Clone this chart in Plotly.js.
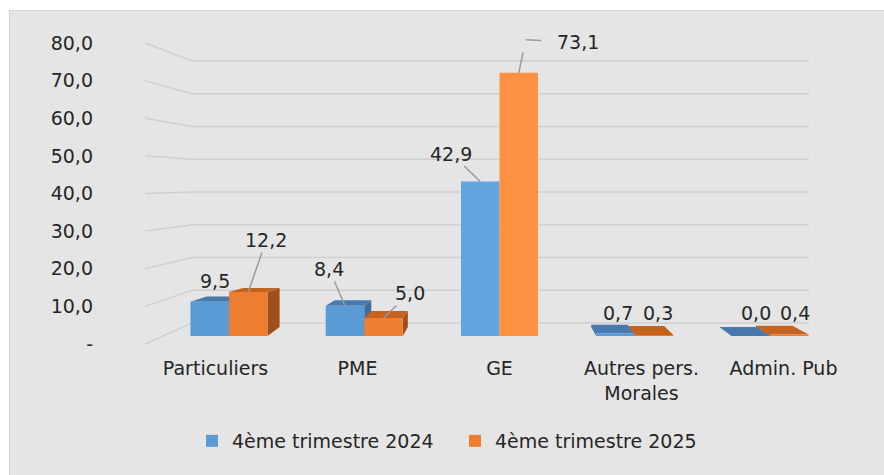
<!DOCTYPE html>
<html><head><meta charset="utf-8">
<script src="https://cdn.plot.ly/plotly-3.0.1.min.js"></script>
<style>
html,body{margin:0;padding:0;background:#ffffff;}
#chart{position:absolute;left:9px;top:10px;width:874px;height:464px;border-left:1px solid #d6d6d6;border-top:1px solid #d6d6d6;}
</style></head><body><div id="chart"></div>
<script>
// ---- data ----
const categories = ['Particuliers', 'PME', 'GE', 'Autres pers.<br>Morales', 'Admin. Pub'];
const seriesNames = ['4ème trimestre 2024', '4ème trimestre 2025'];
const values2024 = [9.5, 8.4, 42.9, 0.7, 0.0];
const values2025 = [12.2, 5.0, 73.1, 0.3, 0.4];
const yTickVals = [0, 10, 20, 30, 40, 50, 60, 70, 80];
const yTickText = ['-', '10,0', '20,0', '30,0', '40,0', '50,0', '60,0', '70,0', '80,0'];

// ---- layout geometry (page pixels) ----
const OX = 10, OY = 11, DW = 874, DH = 464;
const PX0 = 229, PXU = 135.25, PY0 = 336, PYU = 3.6;
const L = 96, R = 850, T = 20, B = 350;
const xRange = [(L - PX0) / PXU, (R - PX0) / PXU];
const yRange = [-(B - PY0) / PYU, (PY0 - T) / PYU];
const W = 0.285;                         // bar width (category units)
const VX = 2, VY = 22.5, SX = 0.948, SY = 0.889;   // fake 3D depth for bars
// wall planes: value t -> bar-plane units, front edge of side wall and back wall
const FA = (PY0 - 344) / PYU, FB = 3.7625 / PYU;
const BA = (PY0 - 323) / PYU, BB = 3.275 / PYU;
const XWF = (145 - PX0) / PXU, XBL = (192 - PX0) / PXU, XBR = (809 - PX0) / PXU;

const FONT = 'DejaVu Sans';
const TXT = '#262626';
const frontColors = [
  ['#5b9bd5', '#5b9bd5', '#62a4df', '#5b9bd5', '#5b9bd5'],
  ['#ed7d31', '#ee7e32', '#fb9141', '#ed7d31', '#ed7d31']
];
const topColors = ['#4779ac', '#c4621f'];
const sideColors = ['#3f6c99', '#9f4f1a'];

const series = [values2024, values2025];
const offsets = [-W, 0];

function back(x, y) { return [VX + SX * (x - VX), VY + SY * (y - VY)]; }
function poly(pts, color) {
  const xs = pts.map(p => p[0]); const ys = pts.map(p => p[1]);
  xs.push(xs[0]); ys.push(ys[0]);
  return {type: 'scatter', mode: 'lines', x: xs, y: ys, fill: 'toself', fillcolor: color,
          line: {width: 0, color: color}, hoverinfo: 'skip', showlegend: false, xaxis: 'x', yaxis: 'y'};
}

const traces = [];
// gridlines (side wall + back wall)
yTickVals.forEach(t => {
  const yf = FA + FB * t, yb = BA + BB * t;
  traces.push({type: 'scatter', mode: 'lines', x: [XWF, XBL, XBR], y: [yf, yb, yb],
    line: {color: '#d0d0d0', width: 1.5}, hoverinfo: 'skip', showlegend: false, xaxis: 'x', yaxis: 'y'});
});
// side and top faces
const sides = [], tops = [];
series.forEach((vals, s) => {
  vals.forEach((v, i) => {
    const a = i + offsets[s], b = a + W;
    if (b < VX - 1e-6) sides.push(poly([[b, 0], [b, v], back(b, v), back(b, 0)], sideColors[s]));
    if (a > VX + 1e-6) sides.push(poly([[a, 0], [a, v], back(a, v), back(a, 0)], sideColors[s]));
    if (v < VY) tops.push(poly([[a, v], [b, v], back(b, v), back(a, v)], topColors[s]));
  });
});
traces.push(...sides, ...tops);
// front faces: real bars on overlay axes
series.forEach((vals, s) => {
  traces.push({type: 'bar', name: seriesNames[s], x: categories.map((c, i) => i), y: vals,
    offset: offsets[s], width: W, xaxis: 'x2', yaxis: 'y2',
    marker: {color: frontColors[s], line: {width: 0}}, hoverinfo: 'skip'});
});
// anchor for the value-axis labels (left wall front edge), invisible
traces.push({type: 'scatter', mode: 'markers', x: yTickVals.map(() => XWF), y: yTickVals,
  marker: {opacity: 0, size: 1}, hoverinfo: 'skip', showlegend: false, xaxis: 'x', yaxis: 'y3'});

// data labels
const labelPos = [
  [{sx: 5, sy: 21}, {ax: -16, ay: -37}, {ax: -29, ay: -28}, {sx: 3, sy: 20}, {sx: 5, sy: 23}],
  [{ax: 18, ay: -52}, {ax: 26, ay: -25}, {elbow: true}, {sx: 4, sy: 22}, {sx: 6, sy: 22}]
];
const fmt = v => v.toFixed(1).replace('.', ',');
const annotations = [];
series.forEach((vals, s) => {
  vals.forEach((v, i) => {
    const p = labelPos[s][i];
    const base = {x: i + offsets[s] + W / 2, y: v, xref: 'x', yref: 'y', text: fmt(v),
      font: {family: FONT, size: 19, color: TXT}};
    if (p.elbow) {
      annotations.push(Object.assign({}, base, {text: ' ', showarrow: true, arrowhead: 0,
        arrowwidth: 1.5, arrowcolor: '#9a9a9a', ax: 7, ay: -33, standoff: 0}));
      annotations.push(Object.assign({}, base, {showarrow: true, arrowhead: 0, arrowwidth: 1.5,
        arrowcolor: '#9a9a9a', xshift: 7, yshift: 33, ax: 52, ay: 2, standoff: 0, startstandoff: 14}));
    } else if (p.ax !== undefined) {
      annotations.push(Object.assign({}, base, {showarrow: true, arrowhead: 0, arrowwidth: 1.5,
        arrowcolor: '#9a9a9a', ax: p.ax, ay: p.ay, standoff: 0}));
    } else {
      annotations.push(Object.assign({}, base, {showarrow: false, xshift: p.sx, yshift: p.sy}));
    }
  });
});

const layout = {
  width: DW, height: DH,
  margin: {l: L - OX, r: OX + DW - R, t: T - OY, b: OY + DH - B, pad: 0},
  paper_bgcolor: '#e5e5e5', plot_bgcolor: 'rgba(0,0,0,0)',
  font: {family: FONT, size: 19, color: TXT},
  barmode: 'overlay', showlegend: true,
  xaxis: {range: xRange, tickvals: categories.map((c, i) => VX + 1.05 * (i - VX)), ticktext: categories,
    showgrid: false, zeroline: false, showline: false, ticks: '', fixedrange: true, ticklabelstandoff: 5,
    tickfont: {family: FONT, size: 19, color: TXT}},
  yaxis: {range: yRange, visible: false, fixedrange: true},
  xaxis2: {range: xRange, overlaying: 'x', visible: false, fixedrange: true},
  yaxis2: {range: yRange, overlaying: 'y', visible: false, fixedrange: true},
  yaxis3: {range: [(yRange[0] - FA) / FB, (yRange[1] - FA) / FB], overlaying: 'y',
    anchor: 'x', side: 'left', tickvals: yTickVals, ticktext: yTickText, showgrid: false,
    zeroline: false, showline: false, ticks: '', fixedrange: true, ticklabelstandoff: 2,
    tickfont: {family: FONT, size: 19, color: TXT}},
  legend: {orientation: 'h', x: (192 - L) / (R - L), xanchor: 'left', y: -(422 - B) / (B - T), yanchor: 'top',
    entrywidth: 218, font: {family: FONT, size: 19, color: TXT}, bgcolor: 'rgba(0,0,0,0)', traceorder: 'normal'},
  annotations: annotations
};
Plotly.newPlot('chart', traces, layout, {displayModeBar: false, staticPlot: true});
</script></body></html>
